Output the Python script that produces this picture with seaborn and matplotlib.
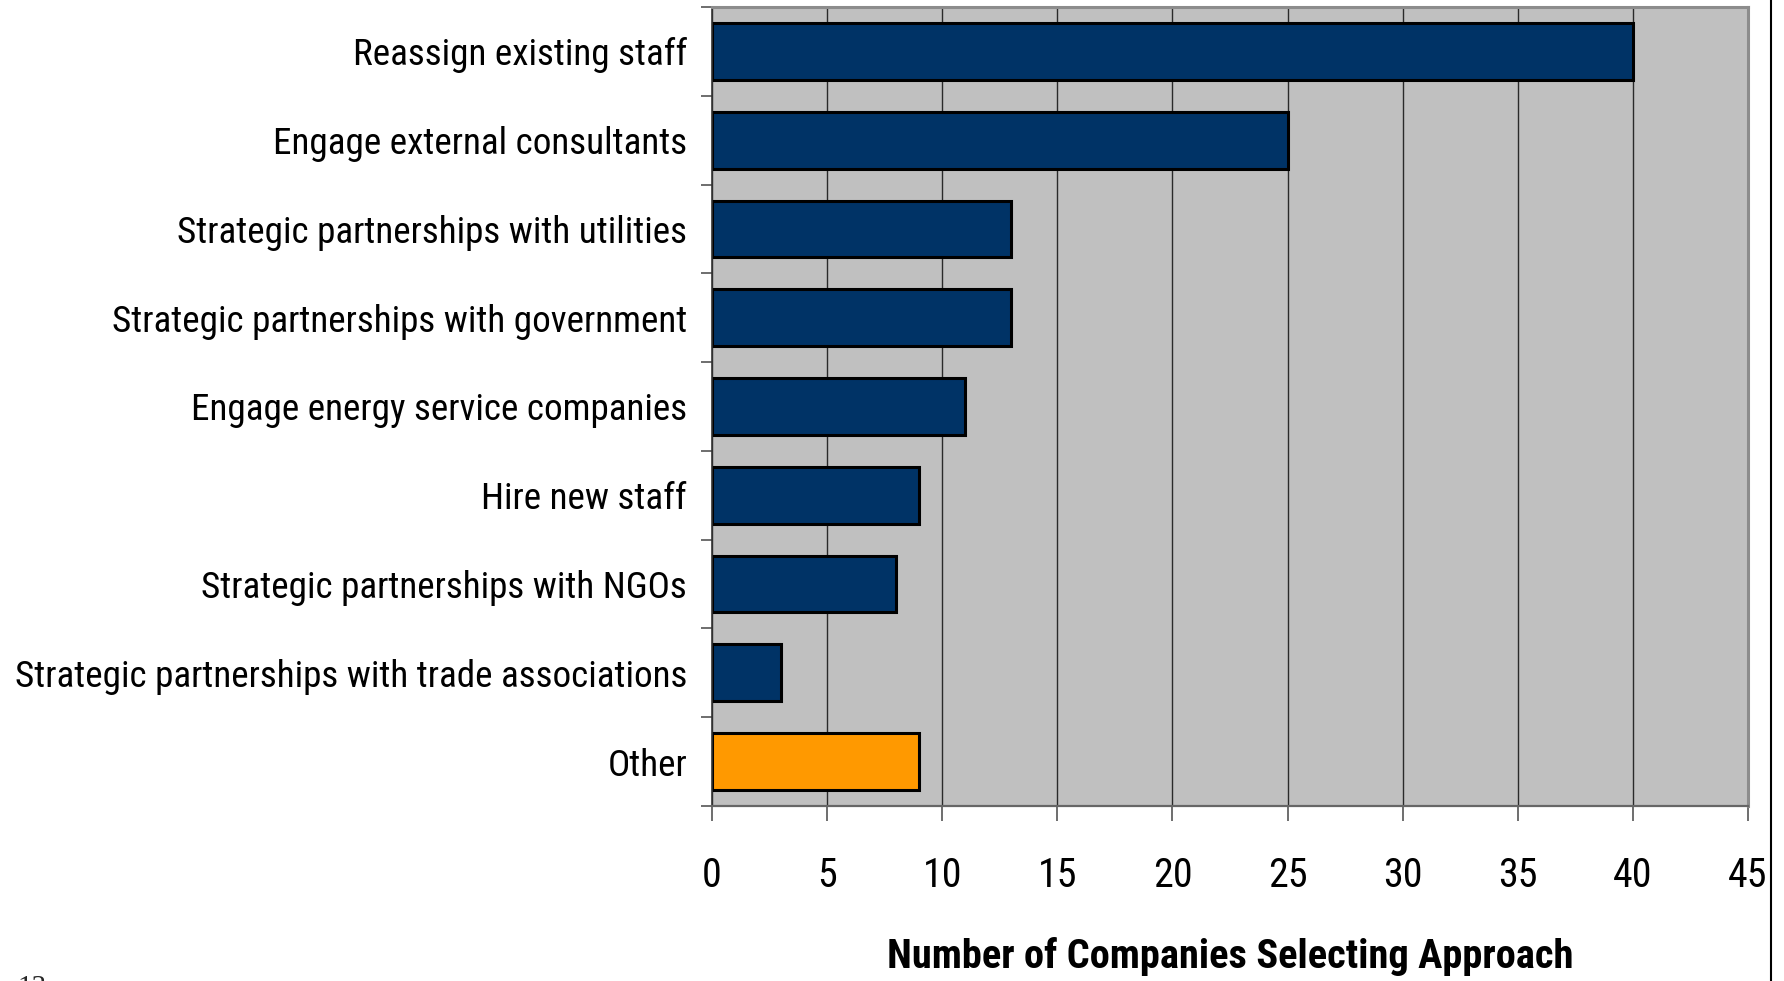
import matplotlib
matplotlib.use("Agg")
import matplotlib.pyplot as plt
from matplotlib import font_manager
from matplotlib.font_manager import FontProperties
from matplotlib.lines import Line2D
import numpy as np
import pandas as pd
import seaborn as sns

# Approaches companies use to staff their energy-efficiency programmes
approaches = [
    "Reassign existing staff",
    "Engage external consultants",
    "Strategic partnerships with utilities",
    "Strategic partnerships with government",
    "Engage energy service companies",
    "Hire new staff",
    "Strategic partnerships with NGOs",
    "Strategic partnerships with trade associations",
    "Other",
]
companies = [40, 25, 13, 13, 11, 9, 8, 3, 9]
bar_colors = ["#003366"] * 8 + ["#FF9900"]
x_ticks = [0, 5, 10, 15, 20, 25, 30, 35, 40, 45]
x_label = "Number of Companies Selecting Approach"
page_number = "13"

sns.set_theme(style="white")


def pick_narrow(bold=False):
    """Return a font file for a narrow / condensed sans face, if one is installed."""
    prefs = ["liberation sans narrow", "arial narrow", "roboto condensed",
             "noto sans", "dejavu sans", "open sans", "liberation sans"]
    cands = []
    for f in font_manager.fontManager.ttflist:
        key = (f.name + " " + f.fname).lower()
        narrow = ("narrow" in key or "condensed" in key or "cond" in str(f.stretch)
                  or str(f.stretch) in ("condensed", "semi-condensed"))
        if not narrow or "extra" in key or "ultra" in key or "semi" in key:
            continue
        if "italic" in key or "oblique" in key or f.style != "normal":
            continue
        w = f.weight if isinstance(f.weight, int) else (700 if "bold" in str(f.weight) else 400)
        is_bold = w >= 600
        if is_bold != bold:
            continue
        rank = next((i for i, p in enumerate(prefs) if p in key), len(prefs))
        cands.append((rank, f.fname))
    if cands:
        cands.sort()
        return FontProperties(fname=cands[0][1])
    return FontProperties(family=["Liberation Sans", "DejaVu Sans"],
                          weight="bold" if bold else "normal")


fp_reg = pick_narrow(False)
fp_bold = pick_narrow(True)

df = pd.DataFrame({"approach": approaches, "companies": companies})

W, H, DPI = 1784, 981, 100
fig = plt.figure(figsize=(W / DPI, H / DPI), dpi=DPI)
fig.patch.set_facecolor("white")

left, right, top, bottom = 712, 1748, 7, 806
ax = fig.add_axes([left / W, 1 - bottom / H, (right - left) / W, (bottom - top) / H])
ax.set_facecolor("#C0C0C0")

sns.barplot(
    data=df, x="companies", y="approach", hue="approach",
    palette=bar_colors, saturation=1, legend=False, orient="h",
    width=0.64, edgecolor="black", linewidth=2.2, ax=ax, zorder=3,
)

ax.set_xlim(0, 45)
ax.set_ylim(len(approaches) - 0.5, -0.5)
ax.set_xticks(x_ticks)
ax.set_xticklabels([str(t) for t in x_ticks])

# vertical gridlines at each major x tick
ax.xaxis.grid(True, color="#2a2a2a", linewidth=1.0, zorder=1)
ax.yaxis.grid(False)
ax.set_axisbelow(True)

# category labels at centres, tick marks at category boundaries
ax.set_yticks(range(len(approaches)))
ax.set_yticklabels(approaches)
ax.set_yticks(np.arange(-0.5, len(approaches), 1.0), minor=True)
ax.tick_params(axis="y", which="major", length=0, pad=18, labelcolor="black")
ax.tick_params(axis="y", which="minor", left=True, length=8, width=1.2, color="#555555")
ax.tick_params(axis="x", which="major", bottom=True, length=11, width=1.2, color="#555555",
               pad=25, labelcolor="black")

ax.set_xlabel(x_label, labelpad=30, color="black")
ax.set_ylabel("")

for side in ["top", "right"]:
    ax.spines[side].set_color("#8c8c8c")
    ax.spines[side].set_linewidth(2.2)
ax.spines["bottom"].set_color("#666666")
ax.spines["bottom"].set_linewidth(1.6)
ax.spines["left"].set_color("#333333")
ax.spines["left"].set_linewidth(1.2)
for s in ax.spines.values():
    s.set_zorder(4)

# size the label fonts so the longest label spans its measured width
fig.canvas.draw()
renderer = fig.canvas.get_renderer()


def fit(texts, fp, target_px, probe):
    fp = fp.copy()
    fp.set_size(20)
    probe.set_fontproperties(fp)
    w = probe.get_window_extent(renderer).width
    size = 20 * target_px / w
    fp.set_size(size)
    for t in texts:
        t.set_fontproperties(fp)
    return size


ylabels = ax.get_yticklabels()
longest = max(ylabels, key=lambda t: len(t.get_text()))
label_size = fit(ylabels, fp_reg, 671, longest)
tick_fp = fp_reg.copy()
tick_fp.set_size(label_size * 1.08)
for t in ax.get_xticklabels():
    t.set_fontproperties(tick_fp)
fit([ax.xaxis.label], fp_bold, 685, ax.xaxis.label)

# page border on the right and page number at the bottom-left corner
fig.add_artist(Line2D([1771 / W, 1771 / W], [0, 1], color="black", linewidth=1.5,
                      transform=fig.transFigure))
fig.text(17 / W, 1 - 975 / H, page_number, fontsize=21, va="top", ha="left",
         family=["Liberation Serif", "DejaVu Serif"])

fig.savefig("out.png", dpi=DPI)
